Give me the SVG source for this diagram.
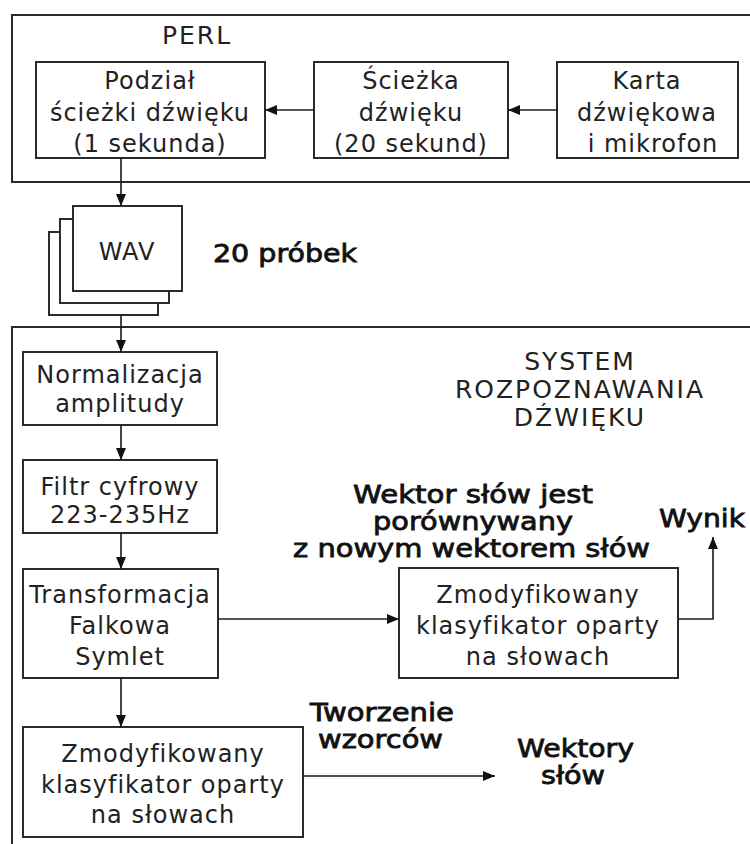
<svg xmlns="http://www.w3.org/2000/svg" width="750" height="844" viewBox="0 0 750 844">
<style>
.box{fill:#fff;stroke:#2a2a2a;stroke-width:2}
.frame{fill:none;stroke:#2a2a2a;stroke-width:2}
.t{font-family:"DejaVu Sans",Verdana,sans-serif;font-size:24px;fill:#222;text-anchor:middle;letter-spacing:1px}
.b{font-family:"DejaVu Sans",Verdana,sans-serif;font-size:25px;fill:#111;stroke:#111;stroke-width:0.8px;text-anchor:start}
.c{fill:none;stroke:#1a1a1a;stroke-width:1.6}
</style>
<defs>
<marker id="ah" markerUnits="userSpaceOnUse" markerWidth="14" markerHeight="12" refX="12" refY="5" orient="auto">
<path d="M0,0 L12,5 L0,10 z" fill="#111"/>
</marker>
</defs>
<rect width="750" height="844" fill="#fff"/>

<g id="perl">
<rect class="frame" x="12" y="15" width="800" height="167"/>
<text class="t" x="162" y="44" style="text-anchor:start;font-size:25px;letter-spacing:2px">PERL</text>
</g>

<g id="podzial">
<rect class="box" x="36" y="62" width="229" height="96"/>
<text class="t" x="150" y="89">Podział</text>
<text class="t" x="150" y="121">ścieżki dźwięku</text>
<text class="t" x="150" y="152">(1 sekunda)</text>
</g>

<g id="sciezka">
<rect class="box" x="314" y="62" width="194" height="96"/>
<text class="t" x="411" y="89">Ścieżka</text>
<text class="t" x="411" y="121">dźwięku</text>
<text class="t" x="411" y="152">(20 sekund)</text>
</g>

<g id="karta">
<rect class="box" x="557" y="62" width="181" height="96"/>
<text class="t" x="647" y="89">Karta</text>
<text class="t" x="647" y="121">dźwiękowa</text>
<text class="t" x="653" y="152">i mikrofon</text>
</g>

<g id="wav">
<rect class="box" x="49" y="232" width="109" height="83"/>
<rect class="box" x="60" y="219" width="109" height="84"/>
<rect class="box" x="73" y="206" width="109" height="85"/>
<text class="t" x="127" y="260">WAV</text>
</g>

<g id="probek">
<text class="b" x="213" y="262" textLength="144" lengthAdjust="spacingAndGlyphs">20 próbek</text>
</g>

<g id="system">
<rect class="frame" x="12" y="327" width="800" height="600"/>
<text class="t" x="580" y="370" style="font-size:25px;letter-spacing:2px">SYSTEM</text>
<text class="t" x="580" y="398" style="font-size:25px;letter-spacing:2px">ROZPOZNAWANIA</text>
<text class="t" x="580" y="426" style="font-size:25px;letter-spacing:2px">DŹWIĘKU</text>
</g>

<g id="normalizacja">
<rect class="box" x="23" y="352" width="194" height="73"/>
<text class="t" x="120" y="383">Normalizacja</text>
<text class="t" x="120" y="412">amplitudy</text>
</g>

<g id="filtr">
<rect class="box" x="23" y="460" width="194" height="73"/>
<text class="t" x="120" y="495">Filtr cyfrowy</text>
<text class="t" x="120" y="523">223-235Hz</text>
</g>

<g id="transformacja">
<rect class="box" x="23" y="569" width="195" height="109"/>
<text class="t" x="120" y="603">Transformacja</text>
<text class="t" x="120" y="634">Falkowa</text>
<text class="t" x="120" y="665">Symlet</text>
</g>

<g id="klasyfikator1">
<rect class="box" x="399" y="568" width="279" height="110"/>
<text class="t" x="538" y="603">Zmodyfikowany</text>
<text class="t" x="538" y="634">klasyfikator oparty</text>
<text class="t" x="538" y="665">na słowach</text>
</g>

<g id="klasyfikator2">
<rect class="box" x="23" y="727" width="280" height="110"/>
<text class="t" x="163" y="762">Zmodyfikowany</text>
<text class="t" x="163" y="793">klasyfikator oparty</text>
<text class="t" x="163" y="823">na słowach</text>
</g>

<g id="wektor-label">
<text class="b" x="353" y="503" textLength="240" lengthAdjust="spacingAndGlyphs">Wektor słów jest</text>
<text class="b" x="373" y="530" textLength="200" lengthAdjust="spacingAndGlyphs">porównywany</text>
<text class="b" x="293" y="557" textLength="357" lengthAdjust="spacingAndGlyphs">z nowym wektorem słów</text>
</g>

<g id="wynik">
<text class="b" x="659" y="527" textLength="86" lengthAdjust="spacingAndGlyphs">Wynik</text>
</g>

<g id="tworzenie">
<text class="b" x="310" y="721" textLength="144" lengthAdjust="spacingAndGlyphs">Tworzenie</text>
<text class="b" x="318" y="748" textLength="125" lengthAdjust="spacingAndGlyphs">wzorców</text>
</g>

<g id="wektory">
<text class="b" x="517" y="757" textLength="117" lengthAdjust="spacingAndGlyphs">Wektory</text>
<text class="b" x="541" y="784" textLength="64" lengthAdjust="spacingAndGlyphs">słów</text>
</g>

<g id="connectors">
<line class="c" x1="557" y1="110" x2="508" y2="110" marker-end="url(#ah)"/>
<line class="c" x1="314" y1="110" x2="265" y2="110" marker-end="url(#ah)"/>
<line class="c" x1="121" y1="158" x2="121" y2="206" marker-end="url(#ah)"/>
<line class="c" x1="121" y1="315" x2="121" y2="352" marker-end="url(#ah)"/>
<line class="c" x1="121" y1="425" x2="121" y2="460" marker-end="url(#ah)"/>
<line class="c" x1="121" y1="533" x2="121" y2="569" marker-end="url(#ah)"/>
<line class="c" x1="121" y1="678" x2="121" y2="727" marker-end="url(#ah)"/>
<line class="c" x1="218" y1="619" x2="399" y2="619" marker-end="url(#ah)"/>
<polyline class="c" points="678,619 713,619 713,537" marker-end="url(#ah)"/>
<line class="c" x1="303" y1="776" x2="495" y2="776" marker-end="url(#ah)"/>
</g>
</svg>
